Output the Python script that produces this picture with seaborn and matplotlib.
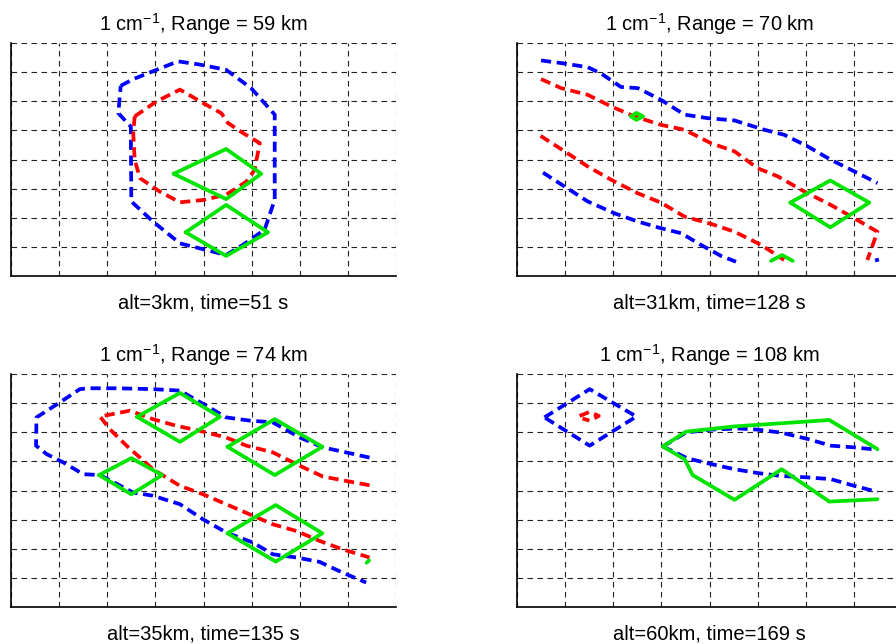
import numpy as np
import pandas as pd
import matplotlib
matplotlib.use("Agg")
import matplotlib.pyplot as plt
import seaborn as sns

# ---------------- data (grid units: x 0..8, y 0..8) ----------------
titles = ["1 cm$^{-1}$, Range = 59 km", "1 cm$^{-1}$, Range = 70 km",
          "1 cm$^{-1}$, Range = 74 km", "1 cm$^{-1}$, Range = 108 km"]
xlabels = ["alt=3km, time=51 s", "alt=31km, time=128 s",
           "alt=35km, time=135 s", "alt=60km, time=169 s"]

# Panel 1
p1_blue_x = [2.28, 2.54, 2.95, 3.47, 3.92, 4.47, 4.99, 5.48, 5.48, 5.27, 4.82, 4.47, 3.92, 3.51, 2.95, 2.50, 2.49, 2.23, 2.28]
p1_blue_y = [6.53, 6.76, 7.03, 7.37, 7.26, 7.08, 6.45, 5.54, 2.62, 1.59, 1.07, 0.72, 0.95, 1.12, 1.87, 2.56, 5.13, 5.59, 6.53]
p1_red_x = [2.57, 3.02, 3.51, 3.99, 4.37, 4.51, 4.82, 5.17, 5.06, 4.89, 4.47, 3.99, 3.51, 3.09, 2.68, 2.57, 2.54, 2.57]
p1_red_y = [5.48, 5.99, 6.40, 5.94, 5.59, 5.25, 4.91, 4.56, 3.64, 3.24, 2.79, 2.61, 2.53, 2.90, 3.36, 3.99, 4.91, 5.48]
p1_green1_x = [3.38, 4.47, 5.20, 4.47, 3.38]
p1_green1_y = [3.51, 4.36, 3.51, 2.64, 3.51]
p1_green2_x = [3.63, 4.47, 5.34, 4.47, 3.63]
p1_green2_y = [1.50, 2.44, 1.50, 0.69, 1.50]

# Panel 2
p2_blue1_x = [0.50, 0.92, 1.47, 1.75, 2.16, 2.51, 2.99, 3.48, 3.96, 4.52, 5.14, 5.55, 6.04, 6.52, 7.01, 7.49]
p2_blue1_y = [7.40, 7.31, 7.17, 6.95, 6.49, 6.45, 6.05, 5.54, 5.42, 5.34, 5.02, 4.85, 4.45, 3.99, 3.59, 3.19]
p2_blue2_x = [0.54, 0.99, 1.47, 2.03, 2.51, 2.99, 3.41, 3.82, 4.24, 4.55]
p2_blue2_y = [3.55, 3.07, 2.56, 2.15, 1.87, 1.64, 1.47, 1.07, 0.69, 0.49]
p2_blue3_x = [7.44, 7.52]
p2_blue3_y = [0.53, 0.57]
p2_red1_x = [0.50, 0.92, 1.47, 1.96, 2.44, 2.99, 3.48, 4.03, 4.52, 5.00, 5.42, 5.97, 6.52, 7.01, 7.49, 7.28]
p2_red1_y = [6.76, 6.45, 6.22, 5.82, 5.48, 5.19, 5.02, 4.56, 4.28, 3.70, 3.42, 2.90, 2.44, 1.98, 1.52, 0.55]
p2_red2_x = [0.49, 0.99, 1.47, 1.96, 2.51, 2.99, 3.48, 4.03, 4.52, 5.07, 5.55]
p2_red2_y = [4.81, 4.28, 3.76, 3.30, 2.84, 2.52, 2.04, 1.79, 1.52, 1.07, 0.55]
p2_green1_x = [2.37, 2.48, 2.62, 2.48, 2.37]
p2_green1_y = [5.48, 5.60, 5.48, 5.36, 5.48]
p2_green2_x = [5.68, 6.51, 7.32, 6.51, 5.68]
p2_green2_y = [2.52, 3.28, 2.52, 1.67, 2.52]
p2_green3_x = [5.28, 5.51, 5.73]
p2_green3_y = [0.52, 0.72, 0.52]

# Panel 3
p3_blue_x = [7.45, 6.96, 6.48, 6.00, 5.44, 4.96, 4.47, 4.06, 3.51, 2.95, 2.19, 1.60, 1.43, 1.02, 0.53, 0.52, 0.74, 1.09, 1.50, 1.85, 2.54, 2.95, 3.51, 3.99, 4.47, 5.03, 5.44, 5.93, 6.41, 6.89, 7.38]
p3_blue_y = [5.13, 5.31, 5.48, 5.82, 6.34, 6.40, 6.51, 6.91, 7.43, 7.48, 7.51, 7.51, 7.48, 7.03, 6.51, 5.54, 5.25, 4.96, 4.56, 4.53, 3.93, 3.82, 3.53, 3.01, 2.56, 2.21, 1.81, 1.70, 1.55, 1.18, 0.84]
p3_red_x = [7.45, 6.96, 6.48, 6.00, 5.44, 4.89, 4.47, 3.92, 3.44, 2.95, 2.47, 1.85, 2.05, 2.40, 2.68, 2.95, 3.51, 3.99, 4.47, 5.03, 5.44, 5.93, 6.41, 6.89, 7.45]
p3_red_y = [4.18, 4.33, 4.48, 4.85, 5.31, 5.54, 5.82, 6.05, 6.22, 6.45, 6.74, 6.54, 6.11, 5.54, 5.13, 4.73, 4.16, 3.87, 3.53, 3.13, 2.84, 2.61, 2.27, 1.98, 1.70]
p3_green1_x = [2.62, 3.51, 4.34, 3.51, 2.62]
p3_green1_y = [6.53, 7.35, 6.53, 5.67, 6.53]
p3_green2_x = [4.50, 5.48, 6.47, 5.48, 4.50]
p3_green2_y = [5.50, 6.45, 5.50, 4.53, 5.50]
p3_green3_x = [1.83, 2.50, 3.14, 2.50, 1.83]
p3_green3_y = [4.53, 5.11, 4.53, 3.87, 4.53]
p3_green4_x = [4.50, 5.50, 6.47, 5.50, 4.50]
p3_green4_y = [2.53, 3.50, 2.53, 1.56, 2.53]
p3_green5_x = [7.39, 7.44]
p3_green5_y = [1.52, 1.60]

# Panel 4
p4_blue1_x = [0.57, 1.51, 2.48, 1.51, 0.57]
p4_blue1_y = [6.51, 7.48, 6.54, 5.54, 6.51]
p4_blue2_x = [3.03, 3.51, 4.03, 4.59, 5.00, 5.48, 6.04, 6.52, 7.01, 7.49]
p4_blue2_y = [5.51, 5.99, 6.09, 6.13, 6.09, 5.99, 5.77, 5.54, 5.48, 5.40]
p4_blue3_x = [3.03, 3.55, 4.03, 4.52, 5.00, 5.48, 6.04, 6.52, 7.01, 7.49]
p4_blue3_y = [5.51, 5.10, 4.91, 4.73, 4.60, 4.50, 4.45, 4.39, 4.16, 3.95]
p4_red_x = [1.30, 1.51, 1.70, 1.51, 1.36]
p4_red_y = [6.56, 6.70, 6.56, 6.40, 6.47]
p4_green_x = [7.49, 6.49, 4.52, 3.51, 3.03, 3.48, 3.65, 4.52, 5.50, 6.49, 7.49]
p4_green_y = [5.42, 6.42, 6.20, 6.02, 5.51, 5.08, 4.53, 3.68, 4.73, 3.62, 3.70]

BLUE, RED, GREEN = "#0000ff", "#ff0000", "#00e400"
panels = [
    [(p1_blue_x, p1_blue_y, BLUE), (p1_red_x, p1_red_y, RED),
     (p1_green1_x, p1_green1_y, GREEN), (p1_green2_x, p1_green2_y, GREEN)],
    [(p2_blue1_x, p2_blue1_y, BLUE), (p2_blue2_x, p2_blue2_y, BLUE), (p2_blue3_x, p2_blue3_y, BLUE),
     (p2_red1_x, p2_red1_y, RED), (p2_red2_x, p2_red2_y, RED),
     (p2_green1_x, p2_green1_y, GREEN), (p2_green2_x, p2_green2_y, GREEN), (p2_green3_x, p2_green3_y, GREEN)],
    [(p3_blue_x, p3_blue_y, BLUE), (p3_red_x, p3_red_y, RED),
     (p3_green1_x, p3_green1_y, GREEN), (p3_green2_x, p3_green2_y, GREEN),
     (p3_green3_x, p3_green3_y, GREEN), (p3_green4_x, p3_green4_y, GREEN), (p3_green5_x, p3_green5_y, GREEN)],
    [(p4_blue1_x, p4_blue1_y, BLUE), (p4_blue2_x, p4_blue2_y, BLUE), (p4_blue3_x, p4_blue3_y, BLUE),
     (p4_red_x, p4_red_y, RED), (p4_green_x, p4_green_y, GREEN)],
]

# ---------------- style ----------------
sns.set_style("white")
plt.rcParams["font.family"] = ["Liberation Sans", "DejaVu Sans"]
plt.rcParams["mathtext.fontset"] = "custom"
plt.rcParams["mathtext.rm"] = "Liberation Sans"
plt.rcParams["mathtext.it"] = "Liberation Sans"
plt.rcParams["text.color"] = "black"
plt.rcParams["axes.labelcolor"] = "black"

W, H = 896, 644
fig = plt.figure(figsize=(W / 100, H / 100), dpi=100)
fig.patch.set_facecolor("white")

ax_w, ax_h = 385, 233
positions = [(11, 43), (517, 43), (11, 374), (517, 374)]  # left, top in px

for i, (left, top) in enumerate(positions):
    ax = fig.add_axes([left / W, 1 - (top + ax_h) / H, ax_w / W, ax_h / H])
    ax.set_xlim(0, 8)
    ax.set_ylim(0, 8)
    ax.set_xticks(range(9))
    ax.set_yticks(range(9))
    ax.set_xticklabels([])
    ax.set_yticklabels([])
    ax.tick_params(length=0)
    ax.grid(True, color="#222222", linestyle=(0, (5.0, 4.0)), linewidth=0.8)
    ax.set_axisbelow(True)
    for s in ["top", "right"]:
        ax.spines[s].set_visible(False)
    for s in ["left", "bottom"]:
        ax.spines[s].set_color("black")
        ax.spines[s].set_linewidth(1.2)

    for (xs, ys, col) in panels[i]:
        df = pd.DataFrame({"x": xs, "y": ys})
        ls = "-" if col == GREEN else (0, (2.7, 1.5))
        sns.lineplot(data=df, x="x", y="y", sort=False, estimator=None, ax=ax,
                     color=col, linewidth=2.7, linestyle=ls)
    ax.set_xlabel(xlabels[i], fontsize=14.5, labelpad=9, color="black")
    ax.set_ylabel("")
    ax.set_title(titles[i], fontsize=14.5, pad=9, color="black")

fig.savefig("out.png", dpi=100, facecolor="white")
